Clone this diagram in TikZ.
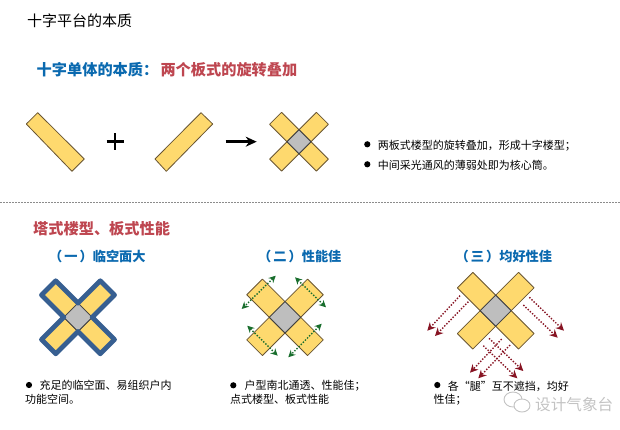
\documentclass[tikz,border=0pt]{standalone}
\usepackage{fontspec}
\setmainfont{Noto Sans CJK SC}
\usetikzlibrary{arrows.meta}
\definecolor{barfill}{RGB}{254,217,110}
\definecolor{barline}{RGB}{105,85,50}
\definecolor{corefill}{RGB}{190,190,190}
\definecolor{headblue}{RGB}{10,105,175}
\definecolor{headred}{RGB}{190,70,80}
\definecolor{rimblue}{RGB}{55,95,145}
\definecolor{airgreen}{RGB}{25,110,45}
\definecolor{viewred}{RGB}{135,20,35}
\definecolor{markgray}{RGB}{195,195,195}
\tikzset{
	bar/.style={draw=barline,fill=barfill,line width=0.8pt,line join=round},
	core/.style={draw=black!75,fill=corefill,line width=0.8pt},
	rim/.style={draw=rimblue,line width=4.8pt,line join=round},
	air/.style={draw=airgreen,line width=1.4pt,dash pattern=on 1.4pt off 1.6pt,{Stealth[length=7pt,width=7pt]}-{Stealth[length=7pt,width=7pt]}},
	view/.style={draw=viewred,line width=1.4pt,dash pattern=on 1.4pt off 1.6pt,-{Stealth[length=8pt,width=8pt]}},
	title/.style={anchor=west,inner sep=0pt,font=\fontsize{15}{18}\selectfont},
	head/.style={anchor=west,inner sep=0pt,font=\fontsize{15.2}{18}\selectfont\bfseries},
	subhead/.style={anchor=west,inner sep=0pt,text=headblue,font=\fontsize{13.2}{16}\selectfont\bfseries},
	note/.style={anchor=west,inner sep=0pt,font=\fontsize{11}{13}\selectfont},
	dot/.style={circle,fill=black,inner sep=0pt,minimum size=6.2pt},
}
% half diagonal #3 of the core, arm reach #4
\newcommand{\crossplan}[4]{
	\begin{scope}[shift={(#1,#2)}]
		\foreach \sx/\sy in {-1/-1,1/-1,-1/1,1/1}
			\draw[bar] (\sx*#3,0) -- (0,\sy*#3) -- ({\sx*(#4-#3/2)},{\sy*(#4+#3/2)}) -- ({\sx*(#4+#3/2)},{\sy*(#4-#3/2)}) -- cycle;
		\draw[core] (#3,0) -- (0,#3) -- (-#3,0) -- (0,-#3) -- cycle;
	\end{scope}
}
\begin{document}
\begin{tikzpicture}[x=1pt,y=-1pt]
	\useasboundingbox (0,0) rectangle (620,430);
	\node[title] (pagetitle) at (27,21) {十字平台的本质};
	\node[head,text=headblue] (singlehead) at (36.5,69.7) {十字单体的本质：};
	\node[head,text=headred] (singletail) at (160.3,69.7) {两个板式的旋转叠加};
	% top row
	\draw[bar] (37.7,112.7) -- (84.3,159) -- (72,171.3) -- (26.3,124) -- cycle;
	\draw[bar] (201,112.7) -- (212.7,124) -- (166.3,171.3) -- (155,159) -- cycle;
	\draw[line width=2.6pt] (106.5,141.7) -- (123.5,141.7);
	\draw[line width=2.6pt] (115,133.2) -- (115,150.2);
	\draw[line width=2.4pt,-{Stealth[length=11pt,width=10pt]}] (225.7,141.7) -- (256.7,141.7);
	\crossplan{299}{141.7}{12}{23.4}
	\node[dot] (dotA) at (367.3,144.3) {};
	\node[note] (noteA) at (377.7,145.3) {两板式楼型的旋转叠加，形成十字楼型；};
	\node[dot] (dotB) at (367.3,164.3) {};
	\node[note] (noteB) at (377.7,165.3) {中间采光通风的薄弱处即为核心筒。};
	\draw[black!45,line width=1.4pt,dash pattern=on 1.5pt off 1.5pt] (0,202.3) -- (620,202.3);
	\node[head,text=headred] (towerhead) at (33,229) {塔式楼型、板式性能};
	% first plan
	\node[subhead] (subA) at (49,256.7) {（\hspace{2pt}一\hspace{2pt}）临空面大};
	\crossplan{78}{317.3}{14.2}{29.4}
	\draw[rim] (78,303.1) -- (100.3,280.8) -- (114.5,295) -- (92.2,317.3) -- (114.5,339.6) -- (100.3,353.8) -- (78,331.5) -- (55.7,353.8) -- (41.5,339.6) -- (63.8,317.3) -- (41.5,295) -- (55.7,280.8) -- cycle;
	\node[dot] (dotC) at (29,385) {};
	\node[note] (noteC) at (39.3,385.7) {充足的临空面、易组织户内};
	\node[note] (noteCb) at (25,399.3) {功能空间。};
	% second plan
	\node[subhead] (subB) at (258,256) {（\hspace{2pt}二\hspace{2pt}）性能佳};
	\crossplan{285}{317.3}{15.7}{30.4}
	\draw[air] (275.7,275.7) -- (241.7,309);
	\draw[air] (295,277.3) -- (326,307.3);
	\draw[air] (247.3,325.7) -- (277.7,355.7);
	\draw[air] (321.7,323.7) -- (288.3,357.3);
	\node[dot] (dotD) at (233.3,385.3) {};
	\node[note] (noteD) at (244.3,386) {户型南北通透、性能佳；};
	\node[note] (noteDb) at (230,399.3) {点式楼型、板式性能};
	% third plan
	\node[subhead] (subC) at (455.5,256) {（\hspace{2pt}三\hspace{2pt}）均好性佳};
	\crossplan{495.7}{310.7}{15.5}{30.6}
	\draw[view] (460,295.7) -- (427.3,330.7);
	\draw[view] (468.3,301.7) -- (435,336);
	\draw[view] (529.3,297.3) -- (564,330.7);
	\draw[view] (523.3,305) -- (557.7,337.7);
	\draw[view] (501.7,339) -- (470,372.7);
	\draw[view] (510,345) -- (478.3,378.3);
	\draw[view] (489,338.3) -- (523.3,371);
	\draw[view] (483.3,345.7) -- (517.3,378.3);
	\node[dot] (dotE) at (437.3,385) {};
	\node[note] (noteE) at (447.7,386) {各“腿”互不遮挡，均好};
	\node[note] (noteEb) at (433.3,399.3) {性佳；};
	% watermark
	\draw[markgray,line width=0.9pt] (513,399.5) ellipse (9 and 7.5);
	\draw[markgray,line width=0.9pt,fill=white] (522,405.5) ellipse (8 and 6.5);
	\node[anchor=west,inner sep=0pt,text=markgray,font=\fontsize{15.6}{18}\selectfont] (markname) at (535,405) {设计气象台};
\end{tikzpicture}
\end{document}
